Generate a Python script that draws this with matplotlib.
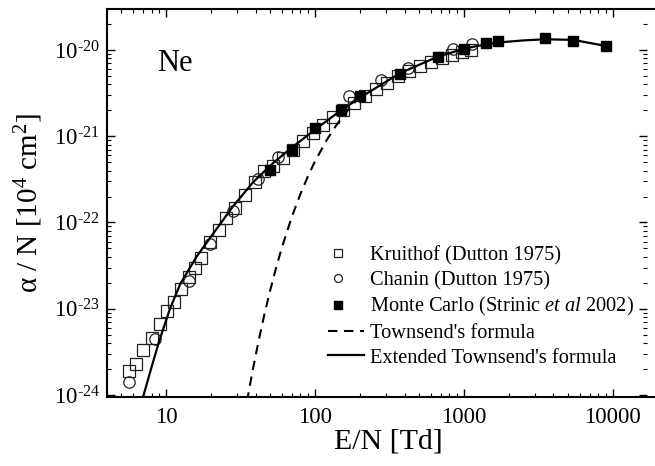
import matplotlib
matplotlib.use("Agg")
import numpy as np
import matplotlib.pyplot as plt
from matplotlib.legend_handler import HandlerLine2DCompound
from matplotlib.ticker import LogLocator, FuncFormatter, NullFormatter, FixedLocator

plt.rcParams['font.family'] = ['Liberation Serif', 'DejaVu Serif']
plt.rcParams['mathtext.fontset'] = 'custom'
plt.rcParams['mathtext.rm'] = 'Liberation Serif'
plt.rcParams['mathtext.it'] = 'Liberation Serif:italic'
plt.rcParams['mathtext.default'] = 'regular'

# Ionization coefficient of neon, alpha/N [1e4 cm^2] versus E/N [Td]
kru_E = [5.66, 6.26, 7.05, 8.0, 9.06, 10.15, 11.28, 12.7, 14.2, 15.56, 17.1, 19.7,
         22.7, 25.5, 29.0, 33.9, 39.5, 45.5, 52.2, 61.0, 71.1, 83.0, 97.0, 113,
         132, 154, 183, 217, 257, 304, 360, 427, 507, 601, 712, 830, 970, 1115]
kru_a = [1.88e-24, 2.29e-24, 3.28e-24, 4.54e-24, 6.65e-24, 9.29e-24, 1.21e-23,
         1.69e-23, 2.34e-23, 3.0e-23, 3.86e-23, 6.0e-23, 8.2e-23, 1.12e-22,
         1.47e-22, 2.06e-22, 2.95e-22, 3.96e-22, 4.53e-22, 5.61e-22, 6.94e-22,
         8.7e-22, 1.09e-21, 1.35e-21, 1.65e-21, 2.02e-21, 2.43e-21, 2.93e-21,
         3.49e-21, 4.15e-21, 4.93e-21, 5.64e-21, 6.44e-21, 7.26e-21, 8.07e-21,
         8.75e-21, 9.48e-21, 1.0e-20]

cha_E = [5.68, 8.44, 14.27, 19.7, 28.3, 41.4, 56.8, 169, 280, 424, 848, 1127]
cha_a = [1.43e-24, 4.48e-24, 2.07e-23, 5.65e-23, 1.35e-22, 3.2e-22, 5.67e-22,
         2.89e-21, 4.44e-21, 6.26e-21, 1.03e-20, 1.17e-20]

mc_E = [50, 70, 100, 150, 200, 375, 670, 1000, 1400, 1700, 3500, 5400, 9000]
mc_a = [4.07e-22, 6.93e-22, 1.24e-21, 1.99e-21, 2.95e-21, 5.27e-21, 8.23e-21,
        1.03e-20, 1.20e-20, 1.27e-20, 1.39e-20, 1.28e-20, 1.11e-20]

town_E = [35, 36, 38, 42, 46, 50, 55, 60, 70, 80, 90, 100, 120, 140, 170, 200]
town_a = [8.4e-25, 1.10e-24, 1.83e-24, 4.33e-24, 8.85e-24, 1.61e-23, 3.02e-23,
          5.09e-23, 1.16e-22, 2.14e-22, 3.46e-22, 5.08e-22, 9.02e-22, 1.36e-21,
          2.10e-21, 2.85e-21]

ext_E = [7.0, 8.0, 9.0, 10.64, 12.5, 16.07, 21.3, 28.3, 38.6, 52.5, 71.5, 102.6,
         147, 211, 372, 673, 1042, 1419, 1698, 2500, 3500, 5420, 9080]
ext_a = [0.93e-24, 2.1e-24, 4.2e-24, 1.0e-23, 1.95e-23, 4.03e-23, 7.9e-23,
         1.55e-22, 2.95e-22, 4.9e-22, 7.6e-22, 1.23e-21, 1.95e-21, 2.95e-21,
         5.37e-21, 8.4e-21, 1.05e-20, 1.165e-20, 1.22e-20, 1.29e-20, 1.33e-20,
         1.31e-20, 1.11e-20]

x_ticks = [10, 100, 1000, 10000]
y_ticks = [1e-24, 1e-23, 1e-22, 1e-21, 1e-20]


class LeftMarkerHandler(HandlerLine2DCompound):
    """Place the single legend marker towards the left of the handle box."""
    def get_xdata(self, legend, xdescent, ydescent, width, height, fontsize):
        xdata, _ = super().get_xdata(legend, xdescent, ydescent, width, height, fontsize)
        return xdata, np.array([-xdescent + 0.27 * width])


fig = plt.figure(figsize=(6.55, 4.66), dpi=100)
ax = fig.add_axes([0.1629, 0.1470, 0.8249, 0.8330])

h_kru, = ax.plot(kru_E, kru_a, 's', ms=8.2, mfc='none', mec='#222222', mew=0.9,
                 label='Kruithof (Dutton 1975)', zorder=2)
h_cha, = ax.plot(cha_E, cha_a, 'o', ms=8.2, mfc='none', mec='#222222', mew=0.9,
                 label='Chanin (Dutton 1975)', zorder=2)
h_mc, = ax.plot(mc_E, mc_a, 's', ms=7.5, color='k',
                label=r'Monte Carlo (Strinic $\mathit{et\ al}$ 2002)', zorder=4)
ax.plot(town_E, town_a, color='k', lw=1.5, ls=(0, (4.5, 3.2)),
        label="Townsend's formula", zorder=3)
ax.plot(ext_E, ext_a, color='k', lw=1.6, label="Extended Townsend's formula", zorder=3)

ax.set_xscale('log')
ax.set_yscale('log')
ax.set_xlim(4, 17000)
ax.set_ylim(0.935e-24, 2.96e-20)

ax.xaxis.set_major_locator(FixedLocator(x_ticks))
ax.xaxis.set_minor_locator(LogLocator(base=10, subs=np.arange(2, 10), numticks=100))
ax.yaxis.set_major_locator(FixedLocator(y_ticks))
ax.yaxis.set_minor_locator(LogLocator(base=10, subs=np.arange(2, 10), numticks=100))
ax.xaxis.set_major_formatter(FuncFormatter(lambda v, p: '%d' % round(v)))
ax.xaxis.set_minor_formatter(NullFormatter())
ax.yaxis.set_major_formatter(
    FuncFormatter(lambda v, p: r'$10^{\text{%d}}$' % round(np.log10(v))))
ax.yaxis.set_minor_formatter(NullFormatter())

ax.tick_params(which='both', direction='in', top=True, right=True)
ax.tick_params(which='major', length=5.8, width=1.0, labelsize=16.5)
ax.tick_params(which='minor', length=3.2, width=0.8)
ax.tick_params(axis='x', which='major', pad=7)
ax.tick_params(axis='y', which='major', pad=5)

for side in ['left', 'bottom', 'top']:
    ax.spines[side].set_linewidth(1.5)
ax.spines['right'].set_visible(False)
ax.spines['top'].set_bounds(4, 25000)
ax.spines['bottom'].set_bounds(4, 25000)

ax.set_xlabel('E/N [Td]', fontsize=21.5)
ax.xaxis.set_label_coords(0.5216, -0.08)
ax.set_ylabel('α / N [10$^{4}$ cm$^{2}$]', fontsize=21, labelpad=6)

fig.text(157 / 655, 1 - 70.7 / 466, 'Ne', fontsize=22, va='baseline', ha='left')

ax.legend(loc='upper left', bbox_to_anchor=(328 / 655, 1 - 246 / 466),
          bbox_transform=fig.transFigure, frameon=False, fontsize=14.7,
          handlelength=1.75, handletextpad=0.3, labelspacing=0.26,
          borderpad=0, borderaxespad=0, markerscale=0.7,
          handler_map={h_kru: LeftMarkerHandler(numpoints=1),
                       h_cha: LeftMarkerHandler(numpoints=1),
                       h_mc: LeftMarkerHandler(numpoints=1)})

fig.savefig('out.png', dpi=100)
